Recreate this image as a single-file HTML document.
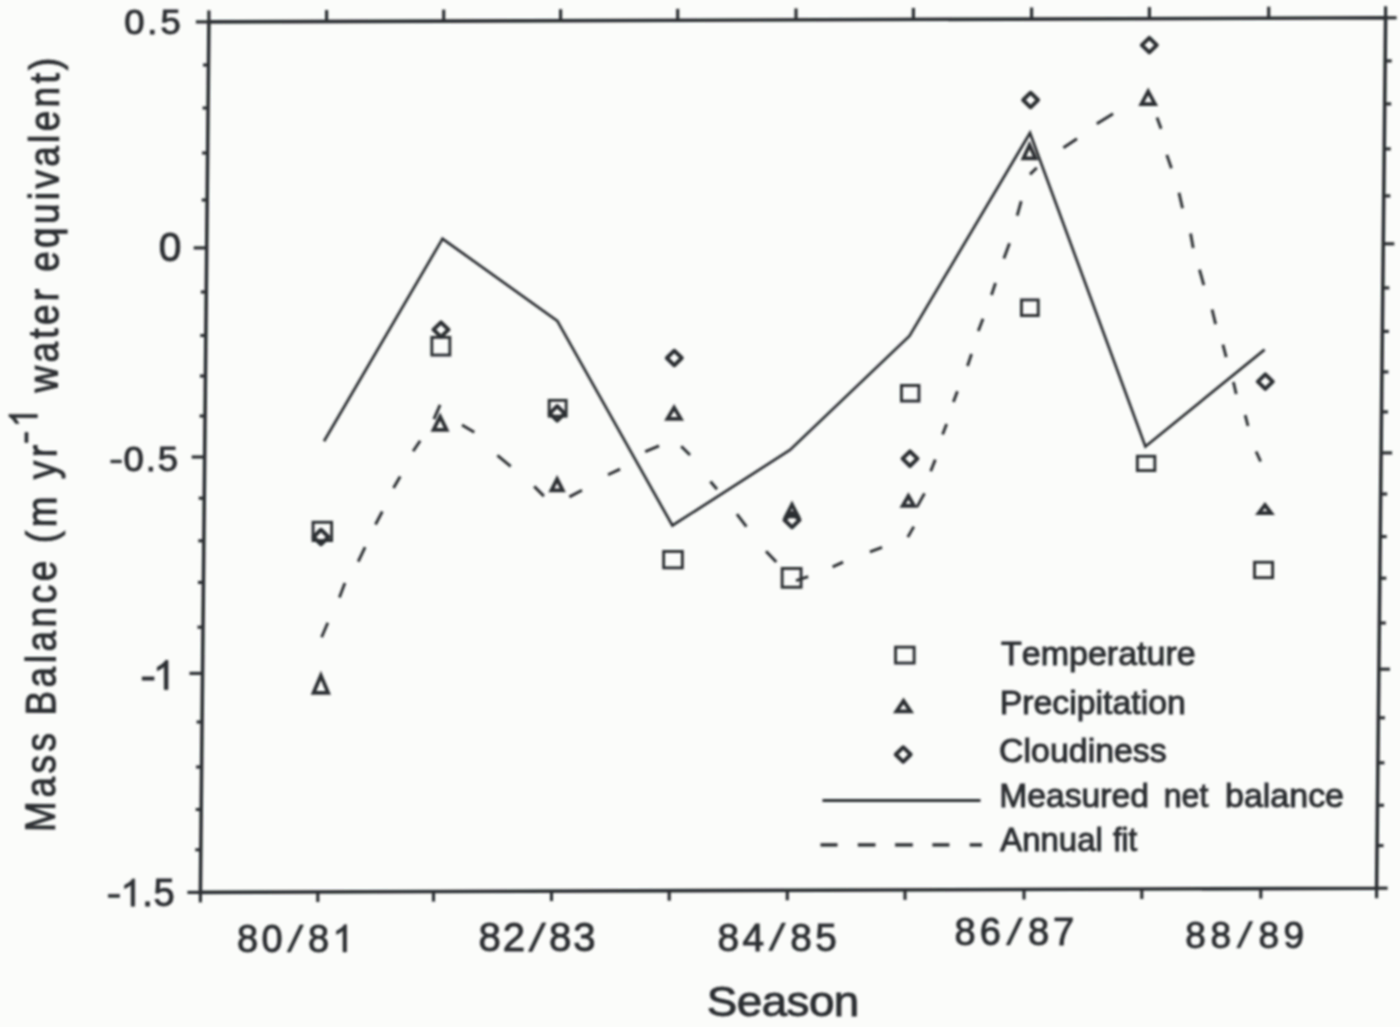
<!DOCTYPE html>
<html><head><meta charset="utf-8"><style>
html,body{margin:0;padding:0;background:#fbfcfa;overflow:hidden;}
svg{display:block;}
text{font-family:"Liberation Sans",sans-serif;fill:#2c2e31;stroke:#2c2e31;stroke-width:0.9px;font-kerning:none;}
.g1{fill:#2c2e31;stroke:#2c2e31;stroke-width:0.0175;}
</style></head><body>
<svg width="1400" height="1027" viewBox="0 0 1400 1027">
<defs><filter id="bl" x="-5%" y="-5%" width="110%" height="110%"><feGaussianBlur stdDeviation="0.8"/></filter></defs>
<rect width="1400" height="1027" fill="#fbfcfa"/>
<g filter="url(#bl)">
<polygon points="208.9,21.9 1385.6,17.8 1376.6,888.2 200.4,892.4" fill="none" stroke="#2c2e31" stroke-width="3.6"/>
<line x1="208.9" y1="21.9" x2="195.9" y2="21.9" stroke="#2c2e31" stroke-width="3.2"/>
<line x1="1385.6" y1="17.8" x2="1396.6" y2="17.8" stroke="#2c2e31" stroke-width="3.2"/>
<line x1="208.5" y1="65.0" x2="203.0" y2="65.0" stroke="#2c2e31" stroke-width="3.2"/>
<line x1="1385.2" y1="60.9" x2="1391.7" y2="60.9" stroke="#2c2e31" stroke-width="3.2"/>
<line x1="208.1" y1="108.0" x2="202.6" y2="108.0" stroke="#2c2e31" stroke-width="3.2"/>
<line x1="1384.7" y1="103.9" x2="1391.2" y2="103.9" stroke="#2c2e31" stroke-width="3.2"/>
<line x1="207.6" y1="153.0" x2="202.1" y2="153.0" stroke="#2c2e31" stroke-width="3.2"/>
<line x1="1384.2" y1="148.9" x2="1390.7" y2="148.9" stroke="#2c2e31" stroke-width="3.2"/>
<line x1="207.2" y1="200.0" x2="201.7" y2="200.0" stroke="#2c2e31" stroke-width="3.2"/>
<line x1="1383.8" y1="195.9" x2="1390.3" y2="195.9" stroke="#2c2e31" stroke-width="3.2"/>
<line x1="206.7" y1="247.9" x2="193.7" y2="247.9" stroke="#2c2e31" stroke-width="3.2"/>
<line x1="1383.3" y1="243.8" x2="1394.3" y2="243.8" stroke="#2c2e31" stroke-width="3.2"/>
<line x1="206.3" y1="292.0" x2="200.8" y2="292.0" stroke="#2c2e31" stroke-width="3.2"/>
<line x1="1382.8" y1="287.9" x2="1389.3" y2="287.9" stroke="#2c2e31" stroke-width="3.2"/>
<line x1="205.8" y1="335.5" x2="200.3" y2="335.5" stroke="#2c2e31" stroke-width="3.2"/>
<line x1="1382.4" y1="331.4" x2="1388.9" y2="331.4" stroke="#2c2e31" stroke-width="3.2"/>
<line x1="205.4" y1="376.0" x2="199.9" y2="376.0" stroke="#2c2e31" stroke-width="3.2"/>
<line x1="1381.9" y1="371.9" x2="1388.4" y2="371.9" stroke="#2c2e31" stroke-width="3.2"/>
<line x1="205.1" y1="416.0" x2="199.6" y2="416.0" stroke="#2c2e31" stroke-width="3.2"/>
<line x1="1381.5" y1="411.9" x2="1388.0" y2="411.9" stroke="#2c2e31" stroke-width="3.2"/>
<line x1="204.7" y1="457.0" x2="191.7" y2="457.0" stroke="#2c2e31" stroke-width="3.2"/>
<line x1="1381.1" y1="452.9" x2="1392.1" y2="452.9" stroke="#2c2e31" stroke-width="3.2"/>
<line x1="204.2" y1="498.2" x2="198.7" y2="498.2" stroke="#2c2e31" stroke-width="3.2"/>
<line x1="1380.7" y1="494.0" x2="1387.2" y2="494.0" stroke="#2c2e31" stroke-width="3.2"/>
<line x1="203.8" y1="540.8" x2="198.3" y2="540.8" stroke="#2c2e31" stroke-width="3.2"/>
<line x1="1380.2" y1="536.6" x2="1386.7" y2="536.6" stroke="#2c2e31" stroke-width="3.2"/>
<line x1="203.4" y1="582.4" x2="197.9" y2="582.4" stroke="#2c2e31" stroke-width="3.2"/>
<line x1="1379.8" y1="578.2" x2="1386.3" y2="578.2" stroke="#2c2e31" stroke-width="3.2"/>
<line x1="203.0" y1="627.2" x2="197.5" y2="627.2" stroke="#2c2e31" stroke-width="3.2"/>
<line x1="1379.3" y1="623.0" x2="1385.8" y2="623.0" stroke="#2c2e31" stroke-width="3.2"/>
<line x1="202.5" y1="673.4" x2="189.5" y2="673.4" stroke="#2c2e31" stroke-width="3.2"/>
<line x1="1378.9" y1="669.2" x2="1389.9" y2="669.2" stroke="#2c2e31" stroke-width="3.2"/>
<line x1="202.1" y1="722.0" x2="196.6" y2="722.0" stroke="#2c2e31" stroke-width="3.2"/>
<line x1="1378.4" y1="717.8" x2="1384.9" y2="717.8" stroke="#2c2e31" stroke-width="3.2"/>
<line x1="201.6" y1="767.0" x2="196.1" y2="767.0" stroke="#2c2e31" stroke-width="3.2"/>
<line x1="1377.9" y1="762.8" x2="1384.4" y2="762.8" stroke="#2c2e31" stroke-width="3.2"/>
<line x1="201.2" y1="809.5" x2="195.7" y2="809.5" stroke="#2c2e31" stroke-width="3.2"/>
<line x1="1377.5" y1="805.3" x2="1384.0" y2="805.3" stroke="#2c2e31" stroke-width="3.2"/>
<line x1="200.8" y1="849.8" x2="195.3" y2="849.8" stroke="#2c2e31" stroke-width="3.2"/>
<line x1="1377.0" y1="845.6" x2="1383.5" y2="845.6" stroke="#2c2e31" stroke-width="3.2"/>
<line x1="200.4" y1="892.4" x2="187.4" y2="892.4" stroke="#2c2e31" stroke-width="3.2"/>
<line x1="1376.6" y1="888.2" x2="1387.6" y2="888.2" stroke="#2c2e31" stroke-width="3.2"/>
<line x1="208.9" y1="21.9" x2="208.9" y2="10.4" stroke="#2c2e31" stroke-width="3.2"/>
<line x1="326.6" y1="21.5" x2="326.6" y2="10.0" stroke="#2c2e31" stroke-width="3.2"/>
<line x1="443.7" y1="21.1" x2="443.7" y2="9.6" stroke="#2c2e31" stroke-width="3.2"/>
<line x1="560.6" y1="20.7" x2="560.6" y2="9.2" stroke="#2c2e31" stroke-width="3.2"/>
<line x1="677.7" y1="20.3" x2="677.7" y2="8.8" stroke="#2c2e31" stroke-width="3.2"/>
<line x1="796.0" y1="19.9" x2="796.0" y2="8.4" stroke="#2c2e31" stroke-width="3.2"/>
<line x1="913.4" y1="19.4" x2="913.4" y2="7.9" stroke="#2c2e31" stroke-width="3.2"/>
<line x1="1031.6" y1="19.0" x2="1031.6" y2="7.5" stroke="#2c2e31" stroke-width="3.2"/>
<line x1="1149.4" y1="18.6" x2="1149.4" y2="7.1" stroke="#2c2e31" stroke-width="3.2"/>
<line x1="1268.7" y1="18.2" x2="1268.7" y2="6.7" stroke="#2c2e31" stroke-width="3.2"/>
<line x1="1385.6" y1="17.8" x2="1385.6" y2="6.3" stroke="#2c2e31" stroke-width="3.2"/>
<line x1="200.4" y1="892.4" x2="200.4" y2="902.4" stroke="#2c2e31" stroke-width="3.2"/>
<line x1="317.8" y1="892.0" x2="317.8" y2="902.0" stroke="#2c2e31" stroke-width="3.2"/>
<line x1="433.5" y1="891.6" x2="433.5" y2="901.6" stroke="#2c2e31" stroke-width="3.2"/>
<line x1="551.5" y1="891.1" x2="551.5" y2="901.1" stroke="#2c2e31" stroke-width="3.2"/>
<line x1="669.2" y1="890.7" x2="669.2" y2="900.7" stroke="#2c2e31" stroke-width="3.2"/>
<line x1="787.3" y1="890.3" x2="787.3" y2="900.3" stroke="#2c2e31" stroke-width="3.2"/>
<line x1="905.0" y1="889.9" x2="905.0" y2="899.9" stroke="#2c2e31" stroke-width="3.2"/>
<line x1="1024.0" y1="889.5" x2="1024.0" y2="899.5" stroke="#2c2e31" stroke-width="3.2"/>
<line x1="1141.8" y1="889.0" x2="1141.8" y2="899.0" stroke="#2c2e31" stroke-width="3.2"/>
<line x1="1260.8" y1="888.6" x2="1260.8" y2="898.6" stroke="#2c2e31" stroke-width="3.2"/>
<line x1="1376.6" y1="888.2" x2="1376.6" y2="898.2" stroke="#2c2e31" stroke-width="3.2"/>
<polyline points="324,441.3 442.5,238.8 557.3,320.8 672.4,525.5 790,450 909.5,336 1030,133 1145.4,446.5 1264.6,349.6" fill="none" stroke="#2c2e31" stroke-width="2.7" stroke-linejoin="miter" stroke-miterlimit="10"/>
<path d="M321.6,637.2L327.8,622.7M339.4,597.5L344.9,582.9M358.2,561.7L365.1,547.1M375.5,524.5L382.3,511.5M393.5,487.9L400.2,476.4M413.1,451.2L420.2,440.8M433.9,419.1L440.1,404.9M462.0,425.0L474.3,432.2M497.4,455.4L510.7,466.3M534.2,486.4L543.9,496.1M569.4,496.9L582.0,490.3M608.0,474.8L620.1,469.1M645.2,451.6L659.1,445.9M681.2,446.2L690.0,455.0M710.4,481.5L717.0,489.2M736.9,514.2L746.4,526.6M766.0,551.2L776.3,562.1M796.0,580.7L808.2,576.6M832.6,566.9L843.1,562.1M869.9,551.9L882.1,547.4M907.8,537.1L913.8,526.6M916.9,507.1L924.5,493.4M930.7,471.2L935.3,459.6M942.6,434.6L946.6,423.9M953.4,401.9L957.4,391.2M967.5,366.0L971.5,354.0M978.3,331.0L983.0,318.8M991.5,295.0L995.5,283.0M1003.9,258.5L1009.5,243.2M1017.2,215.6L1021.2,201.2M1030.0,174.4L1036.8,167.7M1063.4,147.8L1077.0,138.8M1096.8,123.8L1113.1,113.7M1157.0,117.6L1161.1,128.7M1166.8,154.9L1171.4,168.3M1179.0,192.7L1182.5,208.2M1190.6,233.6L1193.2,248.1M1199.5,269.6L1203.8,285.1M1212.1,309.5L1215.6,324.1M1222.9,344.6L1226.2,357.2M1233.4,382.0L1236.2,394.0M1245.2,415.2L1248.0,426.0M1256.1,451.5L1260.6,461.5" fill="none" stroke="#2c2e31" stroke-width="2.9" stroke-linecap="butt"/>
<rect x="313.05" y="522.25" width="18.6" height="18.300000000000047" fill="none" stroke="#2c2e31" stroke-width="2.9"/>
<rect x="431.85" y="337.35" width="18.000000000000036" height="17.700000000000024" fill="none" stroke="#2c2e31" stroke-width="2.9"/>
<rect x="549.15" y="400.35" width="16.99999999999998" height="15.800000000000045" fill="none" stroke="#2c2e31" stroke-width="2.9"/>
<rect x="663.65" y="551.45" width="18.69999999999991" height="16.399999999999956" fill="none" stroke="#2c2e31" stroke-width="2.9"/>
<rect x="782.15" y="568.45" width="18.899999999999956" height="18.800000000000047" fill="none" stroke="#2c2e31" stroke-width="2.9"/>
<rect x="901.45" y="385.45" width="17.49999999999998" height="15.6" fill="none" stroke="#2c2e31" stroke-width="2.9"/>
<rect x="1021.45" y="299.95" width="16.800000000000047" height="15.6" fill="none" stroke="#2c2e31" stroke-width="2.9"/>
<rect x="1137.35" y="456.25" width="17.499999999999865" height="14.299999999999988" fill="none" stroke="#2c2e31" stroke-width="2.9"/>
<rect x="1254.55" y="562.25" width="18.1" height="15.400000000000068" fill="none" stroke="#2c2e31" stroke-width="2.9"/>
<rect x="895.55" y="647.15" width="18.6" height="15.899999999999954" fill="none" stroke="#2c2e31" stroke-width="2.9"/>
<path d="M320.9,675.6 L328.2,692.9 L313.5,692.9 Z" fill="none" stroke="#2c2e31" stroke-width="3.7" stroke-linejoin="miter"/>
<path d="M440.1,416.6 L446.6,429.9 L433.5,429.9 Z" fill="none" stroke="#2c2e31" stroke-width="3.7" stroke-linejoin="miter"/>
<path d="M557.1,479.2 L562.8,490.4 L551.4,490.4 Z" fill="none" stroke="#2c2e31" stroke-width="3.7" stroke-linejoin="miter"/>
<path d="M674.1,407.6 L680.8,418.8 L667.4,418.8 Z" fill="none" stroke="#2c2e31" stroke-width="3.7" stroke-linejoin="miter"/>
<path d="M792.0,504.5 L798.1,516.4 L785.9,516.4 Z" fill="none" stroke="#2c2e31" stroke-width="3.7" stroke-linejoin="miter"/>
<path d="M908.4,496.0 L914.1,505.9 L902.7,505.9 Z" fill="none" stroke="#2c2e31" stroke-width="3.7" stroke-linejoin="miter"/>
<path d="M1029.5,145.1 L1035.6,158.4 L1023.4,158.4 Z" fill="none" stroke="#2c2e31" stroke-width="3.7" stroke-linejoin="miter"/>
<path d="M1148.2,91.5 L1155.0,104.2 L1141.4,104.2 Z" fill="none" stroke="#2c2e31" stroke-width="3.7" stroke-linejoin="miter"/>
<path d="M1264.9,505.0 L1271.2,513.2 L1258.7,513.2 Z" fill="none" stroke="#2c2e31" stroke-width="3.7" stroke-linejoin="miter"/>
<path d="M903.5,700.9 L910.6,711.4 L896.4,711.4 Z" fill="none" stroke="#2c2e31" stroke-width="3.7" stroke-linejoin="miter"/>
<path d="M321.0,529.7 L328.5,537.0 L321.0,544.3 L313.5,537.0 Z" fill="none" stroke="#2c2e31" stroke-width="3.9" stroke-linejoin="round"/>
<path d="M441.0,322.3 L448.5,329.6 L441.0,336.9 L433.5,329.6 Z" fill="none" stroke="#2c2e31" stroke-width="3.9" stroke-linejoin="round"/>
<path d="M557.2,406.1 L564.7,413.4 L557.2,420.7 L549.7,413.4 Z" fill="none" stroke="#2c2e31" stroke-width="3.9" stroke-linejoin="round"/>
<path d="M674.3,350.7 L681.8,358.0 L674.3,365.3 L666.8,358.0 Z" fill="none" stroke="#2c2e31" stroke-width="3.9" stroke-linejoin="round"/>
<path d="M792.0,512.7 L799.5,520.0 L792.0,527.3 L784.5,520.0 Z" fill="none" stroke="#2c2e31" stroke-width="3.9" stroke-linejoin="round"/>
<path d="M910.0,451.4 L917.5,458.7 L910.0,466.0 L902.5,458.7 Z" fill="none" stroke="#2c2e31" stroke-width="3.9" stroke-linejoin="round"/>
<path d="M1030.6,92.7 L1038.1,100.0 L1030.6,107.3 L1023.1,100.0 Z" fill="none" stroke="#2c2e31" stroke-width="3.9" stroke-linejoin="round"/>
<path d="M1149.3,37.9 L1156.8,45.1 L1149.3,52.4 L1141.8,45.1 Z" fill="none" stroke="#2c2e31" stroke-width="3.9" stroke-linejoin="round"/>
<path d="M1265.3,374.3 L1272.8,381.6 L1265.3,388.9 L1257.8,381.6 Z" fill="none" stroke="#2c2e31" stroke-width="3.9" stroke-linejoin="round"/>
<path d="M903.2,747.2 L910.7,754.5 L903.2,761.8 L895.7,754.5 Z" fill="none" stroke="#2c2e31" stroke-width="3.9" stroke-linejoin="round"/>
<line x1="822.5" y1="800.4" x2="980.5" y2="800.4" stroke="#2c2e31" stroke-width="3"/>
<line x1="820.5" y1="844.9" x2="837.5" y2="844.9" stroke="#2c2e31" stroke-width="3.4"/>
<line x1="857.8" y1="844.9" x2="875.5" y2="844.9" stroke="#2c2e31" stroke-width="3.4"/>
<line x1="895.1" y1="844.9" x2="912.8" y2="844.9" stroke="#2c2e31" stroke-width="3.4"/>
<line x1="932.4" y1="844.9" x2="949.4" y2="844.9" stroke="#2c2e31" stroke-width="3.4"/>
<line x1="969.7" y1="844.9" x2="982" y2="844.9" stroke="#2c2e31" stroke-width="3.4"/>
<g transform="translate(125.60,34.20) scale(1.06,1.0)"><text x="-1.34 20.53 32.82" y="0" font-size="34.46">0.5</text></g>
<g transform="translate(160.40,261.00) scale(1.0,1.0)"><text x="-1.59" y="0" font-size="40.68">0</text></g>
<g transform="translate(110.80,470.80) scale(1.06,1.0)"><text x="-1.21 12.04 32.98 44.33" y="0" font-size="34.46"> 0.5</text><path transform="translate(-1.21,0) scale(34.46)" d="M0.035,-0.232 L0.325,-0.232 L0.325,-0.31 L0.035,-0.31 Z" class="g1"/></g>
<g transform="translate(142.20,689.60) scale(1.0,1.0)"><text x="-1.43 10.57" y="0" font-size="40.82">  </text><path transform="translate(-1.43,0) scale(40.82)" d="M0.035,-0.232 L0.325,-0.232 L0.325,-0.31 L0.035,-0.31 Z" class="g1"/><path transform="translate(10.57,0) scale(40.82)" d="M0.373,0 L0.373,-0.716 L0.315,-0.716 Q0.27,-0.63 0.109,-0.548 L0.109,-0.462 Q0.22,-0.51 0.282,-0.565 L0.282,0 Z" class="g1"/></g>
<g transform="translate(108.40,906.20) scale(1.0,1.0)"><text x="-1.33 12.00 33.83 45.06" y="0" font-size="38.14">  .5</text><path transform="translate(-1.33,0) scale(38.14)" d="M0.035,-0.232 L0.325,-0.232 L0.325,-0.31 L0.035,-0.31 Z" class="g1"/><path transform="translate(12.00,0) scale(38.14)" d="M0.373,0 L0.373,-0.716 L0.315,-0.716 Q0.27,-0.63 0.109,-0.548 L0.109,-0.462 Q0.22,-0.51 0.282,-0.565 L0.282,0 Z" class="g1"/></g>
<g transform="translate(238.70,951.90) scale(1.0,1.0)"><text x="-1.63 22.72 47.06 69.28 93.63" y="0" font-size="37.99">80 8 </text><path transform="translate(47.06,0) scale(37.99)" d="M0.035,0 L0.125,0 L0.465,-0.708 L0.375,-0.708 Z" class="g1"/><path transform="translate(93.63,0) scale(37.99)" d="M0.373,0 L0.373,-0.716 L0.315,-0.716 Q0.27,-0.63 0.109,-0.548 L0.109,-0.462 Q0.22,-0.51 0.282,-0.565 L0.282,0 Z" class="g1"/></g>
<g transform="translate(480.30,951.40) scale(1.0,1.0)"><text x="-1.73 22.53 46.79 68.79 93.05" y="0" font-size="40.25">82 83</text><path transform="translate(46.79,0) scale(40.25)" d="M0.035,0 L0.125,0 L0.465,-0.708 L0.375,-0.708 Z" class="g1"/></g>
<g transform="translate(719.10,950.60) scale(1.0,1.0)"><text x="-1.67 23.32 48.30 71.11 96.10" y="0" font-size="38.84">84 85</text><path transform="translate(48.30,0) scale(38.84)" d="M0.035,0 L0.125,0 L0.465,-0.708 L0.375,-0.708 Z" class="g1"/></g>
<g transform="translate(956.20,944.90) scale(1.0,1.0)"><text x="-1.64 23.53 48.70 71.73 96.90" y="0" font-size="38.14">86 87</text><path transform="translate(48.70,0) scale(38.14)" d="M0.035,0 L0.125,0 L0.465,-0.708 L0.375,-0.708 Z" class="g1"/></g>
<g transform="translate(1186.90,947.80) scale(1.0,1.0)"><text x="-1.59 23.49 48.58 71.58 96.66" y="0" font-size="37.01">88 89</text><path transform="translate(48.58,0) scale(37.01)" d="M0.035,0 L0.125,0 L0.465,-0.708 L0.375,-0.708 Z" class="g1"/></g>
<g transform="translate(708.80,1016.20) scale(1.08,1.0)"><text x="-1.91 25.87 48.95 72.03 92.73 115.81" y="0" font-size="42.39">Season</text></g>
<g transform="translate(1001.70,664.60) scale(1.097406984069071,1.05)"><text x="-0.68 18.25 35.49 61.32 78.56 95.80 106.12 123.36 131.98 149.22 159.54" y="0" font-size="31.00">Temperature</text></g>
<g transform="translate(1002.50,714.20) scale(1.0911640626440782,1.05)"><text x="-2.54 18.13 28.46 45.70 61.20 68.09 85.33 92.21 100.83 118.07 126.68 133.57 150.81" y="0" font-size="31.00">Precipitation</text></g>
<g transform="translate(1000.80,761.90) scale(1.0928983278369424,1.05)"><text x="-1.55 20.84 27.72 44.97 62.21 79.45 86.33 103.58 120.82 136.32" y="0" font-size="31.00">Cloudiness</text></g>
<g transform="translate(1002.10,806.70) scale(1.0853557373909783,1.05)"><text x="-2.54 23.28 40.52 57.76 73.26 90.50 100.83 118.07" y="0" font-size="31.00">Measured</text></g>
<g transform="translate(1165.90,806.70) scale(1.0333845025995267,1.05)"><text x="-2.05 15.19 32.44" y="0" font-size="31.00">net</text></g>
<g transform="translate(1227.20,806.70) scale(1.0956045311870612,1.05)"><text x="-1.98 15.26 32.50 39.39 56.63 73.87 89.37" y="0" font-size="31.00">balance</text></g>
<g transform="translate(1000.30,851.10) scale(1.0623382297452053,1.05)"><text x="-0.06 20.61 37.86 55.10 72.34 89.58" y="0" font-size="31.00">Annual</text></g>
<g transform="translate(1113.40,851.10) scale(1.0056675331316278,1.05)"><text x="-0.43 8.18 15.07" y="0" font-size="31.00">fit</text></g>
<g transform="translate(54.70,828.90) rotate(-89.75) scale(1,1.15)"><text x="-3.02 31.28 55.38 77.42 99.46 113.32 141.51 165.61 177.43 201.53 225.64 247.68 271.78 285.64 301.54 335.83 349.70 371.73" y="0" font-size="36.80">Mass Balance (m yr</text></g>
<g transform="translate(37.20,442.50) rotate(-89.75) scale(1,1.15)"><text x="-1.21 15.13" y="0" font-size="34.49">  </text><path transform="translate(-1.21,0) scale(34.49)" d="M0.035,-0.232 L0.325,-0.232 L0.325,-0.31 L0.035,-0.31 Z" class="g1"/><path transform="translate(15.13,0) scale(34.49)" d="M0.373,0 L0.373,-0.716 L0.315,-0.716 Q0.27,-0.63 0.109,-0.548 L0.109,-0.462 Q0.22,-0.51 0.282,-0.565 L0.282,0 Z" class="g1"/></g>
<g transform="translate(57.60,392.50) rotate(-89.75) scale(1,1.15)"><text x="0.00 29.98 53.86 67.49 91.37 107.03 120.66 144.54 168.42 192.29 203.88 225.68 249.56 261.14 285.02 308.89 322.53" y="0" font-size="36.80">water equivalent)</text></g>
</g>
</svg>
</body></html>
